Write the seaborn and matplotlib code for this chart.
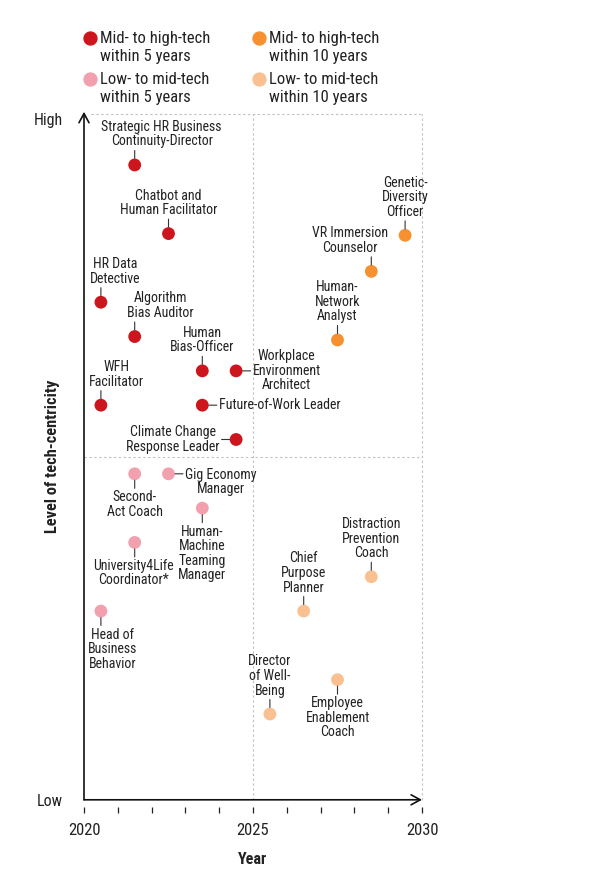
import pandas as pd
import seaborn as sns
import matplotlib.pyplot as plt
from matplotlib.lines import Line2D

# ---- values ----
categories = [
    "Mid- to high-tech\nwithin 5 years",
    "Mid- to high-tech\nwithin 10 years",
    "Low- to mid-tech\nwithin 5 years",
    "Low- to mid-tech\nwithin 10 years",
]
cat_colors = ["#cc151c", "#f7902e", "#f2a0ad", "#f9c191"]

jobs = [
    "Strategic HR Business\nContinuity-Director",
    "Chatbot and\nHuman Facilitator",
    "HR Data\nDetective",
    "Algorithm\nBias Auditor",
    "Human\nBias-Officer",
    "Workplace\nEnvironment\nArchitect",
    "WFH\nFacilitator",
    "Future-of-Work Leader",
    "Climate Change\nResponse Leader",
    "Genetic-\nDiversity\nOfficer",
    "VR Immersion\nCounselor",
    "Human-\nNetwork\nAnalyst",
    "Second-\nAct Coach",
    "Gig Economy\nManager",
    "Human-\nMachine\nTeaming\nManager",
    "University4Life\nCoordinator*",
    "Head of\nBusiness\nBehavior",
    "Distraction\nPrevention\nCoach",
    "Chief\nPurpose\nPlanner",
    "Director\nof Well-\nBeing",
    "Employee\nEnablement\nCoach",
]
job_year = [2021.5, 2022.5, 2020.5, 2021.5, 2023.5, 2024.5, 2020.5, 2023.5, 2024.5,
            2029.5, 2028.5, 2027.5,
            2021.5, 2022.5, 2023.5, 2021.5, 2020.5,
            2028.5, 2026.5, 2025.5, 2027.5]
job_level = [18.5, 16.5, 14.5, 13.5, 12.5, 12.5, 11.5, 11.5, 10.5,
             16.45, 15.4, 13.4,
             9.5, 9.5, 8.5, 7.5, 5.5,
             6.5, 5.5, 2.5, 3.5]
job_cat = [0] * 9 + [1] * 3 + [2] * 5 + [3] * 4

x_ticks = list(range(2020, 2031))
x_ticklabels = [str(t) if t in (2020, 2025, 2030) else "" for t in x_ticks]

# label placement (side of the dot, shift in px)
label_side = ["top", "top", "top", "top", "top", "right", "top", "right", "left",
              "top", "top", "top",
              "bottom", "right_top", "bottom", "bottom", "bottom",
              "top", "top", "top", "bottom"]
label_dx = [27, 0, 14, 26, 0, 0, 16, 0, 0,
            0, -21, 0,
            0, 0, 0, -1, 12,
            0, 0, 0, 0]

df = pd.DataFrame({
    "job": jobs,
    "year": job_year,
    "level": job_level,
    "category": [categories[i] for i in job_cat],
})

sns.set_theme(style="white")
plt.rcParams["font.family"] = ["Liberation Sans Narrow", "Roboto Condensed", "Liberation Sans", "DejaVu Sans"]
TXT = "#222222"
GRID = "#c2c2c2"

W, H = 596, 873
fig = plt.figure(figsize=(W / 100, H / 100), dpi=100)
ax = fig.add_axes([84 / W, 1 - 799.8 / H, 338 / W, 686.3 / H])

sns.scatterplot(data=df, x="year", y="level", hue="category", hue_order=categories,
                palette=dict(zip(categories, cat_colors)), s=85, linewidth=0,
                legend=False, ax=ax, zorder=3, clip_on=False)

ax.set_xlim(2020, 2030)
ax.set_ylim(0, 20)

# quadrant guides
dash = (0, (2.2, 2.2))
ax.axvline(2025, color=GRID, lw=0.8, ls=dash, zorder=0)
ax.axvline(2030, color=GRID, lw=0.8, ls=dash, zorder=0, clip_on=False)
ax.axhline(10, color=GRID, lw=0.8, ls=dash, zorder=0)
ax.axhline(20, xmin=0.02, color=GRID, lw=0.8, ls=dash, zorder=0, clip_on=False)

# axis arrows
arrow = dict(arrowstyle="->,head_length=0.55,head_width=0.3", lw=1.2, color="#111111", shrinkA=0, shrinkB=0)
ax.annotate("", xy=(2030, 0), xytext=(2020, 0), arrowprops=arrow, annotation_clip=False)
ax.annotate("", xy=(2020, 20.05), xytext=(2020, 0), arrowprops=arrow, annotation_clip=False)

for s in ax.spines.values():
    s.set_visible(False)
ax.spines["bottom"].set_position(("outward", 5))

ax.set_xticks(x_ticks, labels=x_ticklabels)
ax.tick_params(axis="x", bottom=True, length=4.5, width=0.9, color=TXT, pad=7,
               labelsize=12, labelcolor=TXT)
ax.set_yticks([0, 20], labels=["Low", "High"])
ax.tick_params(axis="y", left=False, length=0, pad=15, labelsize=11.5, labelcolor=TXT)
ax.get_yticklabels()[1].set_va("top")

ax.set_xlabel("Year", fontsize=11.5, fontweight="bold", color=TXT, labelpad=10)
ax.set_ylabel("Level of tech-centricity", fontsize=11.8, fontweight="bold", color=TXT)
ax.yaxis.set_label_coords(-0.07, 0.5)

# job labels with short leader lines
R, LEAD, GAP = 6.5, 8, 2
for name, x, y, side, dx in zip(df.job, df.year, df.level, label_side, label_dx):
    if side == "top":
        b = (0, R + LEAD)
        txy, ha, va = (dx, R + LEAD + GAP), "center", "bottom"
    elif side == "bottom":
        b = (0, -R - LEAD)
        txy, ha, va = (dx, -R - LEAD - GAP), "center", "top"
    elif side == "right":
        b = (R + LEAD, 0)
        txy, ha, va = (R + LEAD + GAP, 0), "left", "center"
    elif side == "right_top":
        b = (R + LEAD, 0)
        txy, ha, va = (R + LEAD + GAP, 6), "left", "top"
    else:
        b = (-R - LEAD, 0)
        txy, ha, va = (-R - LEAD - GAP, 0), "right", "center"
    ax.annotate("", xy=(x, y), xytext=b, textcoords="offset pixels",
                arrowprops=dict(arrowstyle="-", color="#333333", lw=0.8,
                                shrinkA=0, shrinkB=R * 0.72))
    ax.annotate(name, xy=(x, y), xytext=txy, textcoords="offset pixels",
                ha=ha, va=va, multialignment="center", fontsize=10,
                linespacing=1.05, color=TXT)

# legend, two columns, dot aligned with the first text line
leg_pos = [(90, 38), (259, 38), (90, 79), (259, 79)]
for lab, col, (px, py) in zip(categories, cat_colors, leg_pos):
    fig.add_artist(Line2D([px / W], [1 - py / H], transform=fig.transFigure,
                          marker="o", ms=9.3, color=col, lw=0))
    fig.text((px + 10) / W, 1 - (py - 7.5) / H, lab, ha="left", va="top",
             fontsize=12, linespacing=1.3, color=TXT)

fig.savefig("out.png", dpi=100)
